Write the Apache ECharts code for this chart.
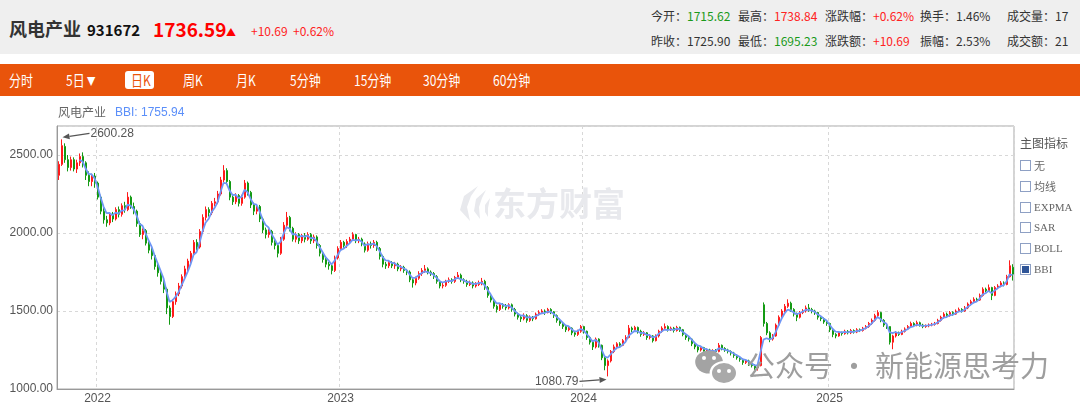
<!DOCTYPE html>
<html><head><meta charset="utf-8">
<script src="https://cdn.jsdelivr.net/npm/echarts@6/dist/echarts.min.js"></script>
<style>
html,body{margin:0;padding:0;background:#fff;}
#wrap{position:relative;width:1080px;height:410px;overflow:hidden;font-family:'Noto Sans CJK SC','Noto Sans',sans-serif;}
#chart{position:absolute;left:0;top:0;width:1080px;height:410px;}
.a{position:absolute;white-space:nowrap;line-height:1;}
#hdr{position:absolute;left:0;top:0;width:1080px;height:54px;background:#efefef;}
#tabs{position:absolute;left:0;top:64px;width:1080px;height:32px;background:#e9540b;}
.tab{position:absolute;top:0;height:32px;line-height:32px;color:#fff;font-size:15px;transform:scaleX(0.8);transform-origin:0 50%;white-space:nowrap;}
.lbl{color:#333;font-size:12px;}
.red{color:#f22;}
.grn{color:#1a9a1a;}
.cb{position:absolute;left:1020px;width:9px;height:9px;border:1px solid #8ea0c4;background:#fff;}
.cbl{position:absolute;left:1034px;font-size:11px;color:#666;line-height:1;font-family:'Liberation Serif','DejaVu Serif',serif;}
</style></head>
<body><div id="wrap">
<div id="chart"></div>
<div id="hdr"></div>
<span class="a" style="left:9px;top:19px;font-size:18px;font-weight:bold;color:#333;">风电产业</span>
<span class="a" style="left:87px;top:22px;font-size:15px;font-weight:bold;color:#111;">931672</span>
<span class="a" style="left:153px;top:19px;font-size:19px;font-weight:bold;color:#f00;">1736.59</span>
<span class="a" style="left:226px;top:27px;font-size:10px;color:#f00;">▲</span>
<span class="a red" style="left:251px;top:25px;font-size:12px;">+10.69</span>
<span class="a red" style="left:293px;top:25px;font-size:12px;">+0.62%</span>

<span class="a lbl" style="left:651px;top:10px;">今开：<span class="grn">1715.62</span></span>
<span class="a lbl" style="left:738px;top:10px;">最高：<span class="red">1738.84</span></span>
<span class="a lbl" style="left:825px;top:10px;">涨跌幅：<span class="red">+0.62%</span></span>
<span class="a lbl" style="left:920px;top:10px;">换手：1.46%</span>
<span class="a lbl" style="left:1007px;top:10px;">成交量：17</span>
<span class="a lbl" style="left:651px;top:35px;">昨收：1725.90</span>
<span class="a lbl" style="left:738px;top:35px;">最低：<span class="grn">1695.23</span></span>
<span class="a lbl" style="left:825px;top:35px;">涨跌额：<span class="red">+10.69</span></span>
<span class="a lbl" style="left:920px;top:35px;">振幅：2.53%</span>
<span class="a lbl" style="left:1007px;top:35px;">成交额：21</span>

<div id="tabs">
<span class="tab" style="left:9px;">分时</span>
<span class="tab" style="left:66px;">5日<span style="font-size:11px;"> ▼</span></span>
<div style="position:absolute;left:125px;top:7px;width:29px;height:18px;background:#fff;border-radius:3px;"></div>
<span class="tab" style="left:131px;color:#e9540b;">日K</span>
<span class="tab" style="left:183px;">周K</span>
<span class="tab" style="left:236px;">月K</span>
<span class="tab" style="left:290px;">5分钟</span>
<span class="tab" style="left:354px;">15分钟</span>
<span class="tab" style="left:423px;">30分钟</span>
<span class="tab" style="left:493px;">60分钟</span>
</div>

<span class="a" style="left:58px;top:106px;font-size:12px;color:#666;">风电产业</span>
<span class="a" style="left:115px;top:106px;font-size:12px;color:#5b8ff9;font-family:'Liberation Sans',Arial,sans-serif;">BBI: 1755.94</span>

<span class="a" style="left:1020px;top:137px;font-size:12px;color:#555;">主图指标</span>
<div class="cb" style="top:160px;"></div><span class="cbl" style="top:160px;font-family:'Noto Sans CJK SC';">无</span>
<div class="cb" style="top:181px;"></div><span class="cbl" style="top:181px;font-family:'Noto Sans CJK SC';">均线</span>
<div class="cb" style="top:202px;"></div><span class="cbl" style="top:202px;">EXPMA</span>
<div class="cb" style="top:222px;"></div><span class="cbl" style="top:222px;">SAR</span>
<div class="cb" style="top:243px;"></div><span class="cbl" style="top:243px;">BOLL</span>
<div class="cb" style="top:264px;"><div style="position:absolute;left:1px;top:1px;width:7px;height:7px;background:#2f5597;"></div></div><span class="cbl" style="top:264px;">BBI</span>
</div>
<script>
// ---- data (3-trading-day candles) ----
const years = ['2021','2022','2023','2024','2025'];
const candlesPerYear = [13, 81, 81, 82, 62];
const yearTicks = ['2022','2023','2024','2025'];
const yTickValues = [1000, 1500, 2000, 2500];
// [open, close, low, high]
const candles = [
[2370,2440,2340,2460],[2440,2560,2430,2600.28],[2555,2470,2450,2575],[2470,2420,2395,2500],[2420,2470,2400,2490],
[2470,2410,2395,2485],[2410,2450,2385,2470],[2450,2490,2430,2510],[2490,2450,2420,2517],[2450,2370,2340,2460],
[2370,2330,2300,2395],[2330,2365,2300,2380],[2365,2320,2290,2385],
[2320,2230,2215,2330],[2230,2140,2120,2245],[2140,2085,2060,2160],[2085,2065,2040,2110],[2065,2115,2050,2130],
[2115,2090,2070,2135],[2090,2150,2080,2165],[2150,2120,2100,2170],[2120,2175,2105,2190],[2175,2150,2130,2200],
[2150,2230,2140,2262],[2230,2170,2155,2240],[2170,2140,2120,2195],[2140,2060,2040,2150],[2060,1990,1975,2075],
[1990,2015,1960,2030],[2015,1935,1920,2025],[1935,1890,1870,1950],[1890,1855,1830,1910],[1855,1785,1765,1865],
[1785,1745,1720,1800],[1745,1690,1670,1760],[1690,1640,1615,1705],[1640,1520,1480,1650],[1520,1465,1412,1535],
[1465,1560,1455,1575],[1560,1610,1540,1625],[1610,1660,1595,1680],[1660,1720,1645,1735],[1720,1770,1700,1790],
[1770,1820,1755,1835],[1820,1870,1800,1885],[1870,1940,1855,1955],[1940,1910,1890,1960],[1910,2010,1900,2025],
[2010,2100,1995,2120],[2100,2150,2080,2170],[2150,2130,2105,2165],[2130,2190,2115,2205],[2190,2200,2170,2225],
[2200,2250,2185,2270],[2250,2340,2240,2360],[2340,2400,2325,2435],[2400,2330,2310,2415],[2330,2230,2210,2340],
[2230,2200,2180,2250],[2200,2240,2185,2255],[2240,2190,2170,2250],[2190,2230,2175,2245],[2230,2320,2220,2340],
[2320,2260,2240,2330],[2260,2180,2160,2270],[2180,2140,2115,2195],[2140,2170,2120,2185],[2170,2090,2070,2180],
[2090,2020,2000,2100],[2020,1990,1965,2035],[1990,2010,1970,2025],[2010,1940,1920,2020],[1940,1920,1895,1955],
[1920,1870,1844,1930],[1870,1960,1860,1975],[1960,2050,1950,2070],[2050,2100,2035,2135],[2100,2030,2010,2110],
[2030,1960,1945,2040],[1960,1990,1940,2005],[1990,1950,1930,2000],[1950,1985,1935,1995],[1985,1960,1940,2000],
[1960,1990,1950,2005],[1990,1950,1930,2000],[1950,1975,1935,1990],[1975,1920,1900,1985],[1920,1870,1850,1930],
[1870,1830,1810,1880],[1830,1800,1780,1845],[1800,1790,1765,1815],[1790,1760,1735,1800],[1760,1840,1750,1855],
[1840,1900,1830,1915],
[1900,1940,1885,1955],[1940,1920,1905,1950],[1920,1945,1905,1960],[1945,1960,1930,1975],[1960,1990,1950,2005],
[1990,1950,1935,1995],[1950,1960,1935,1975],[1960,1930,1915,1970],[1930,1890,1875,1940],[1890,1930,1880,1945],
[1930,1920,1900,1945],[1920,1940,1905,1955],[1940,1900,1885,1950],[1900,1850,1830,1910],[1850,1800,1780,1860],
[1800,1790,1770,1815],[1790,1810,1775,1825],[1810,1790,1775,1820],[1790,1800,1770,1815],[1800,1770,1755,1810],
[1770,1780,1755,1795],[1780,1760,1745,1790],[1760,1750,1730,1770],[1750,1700,1685,1760],[1700,1680,1650,1710],
[1680,1710,1665,1720],[1710,1740,1700,1755],[1740,1760,1725,1775],[1760,1770,1745,1795],[1770,1750,1735,1780],
[1750,1740,1725,1760],[1740,1720,1705,1750],[1720,1690,1675,1730],[1690,1660,1645,1700],[1660,1665,1645,1680],
[1665,1690,1655,1700],[1690,1700,1680,1715],[1700,1690,1675,1710],[1690,1715,1680,1725],[1715,1730,1705,1750],
[1730,1700,1685,1740],[1700,1690,1675,1710],[1690,1670,1655,1700],[1670,1680,1660,1695],[1680,1660,1645,1690],
[1660,1670,1650,1685],[1670,1680,1660,1695],[1680,1690,1665,1712],[1690,1650,1635,1700],[1650,1600,1585,1660],
[1600,1570,1555,1610],[1570,1530,1515,1580],[1530,1510,1490,1540],[1510,1540,1500,1550],[1540,1530,1515,1550],
[1530,1520,1505,1545],[1520,1540,1510,1550],[1540,1510,1495,1548],[1510,1480,1465,1520],[1480,1460,1445,1490],
[1460,1450,1430,1470],[1450,1470,1440,1485],[1470,1440,1425,1480],[1440,1460,1430,1472],[1460,1450,1435,1468],
[1450,1480,1445,1490],[1480,1490,1470,1505],[1490,1500,1480,1512],[1500,1490,1475,1510],[1490,1510,1485,1520],
[1510,1495,1480,1518],[1495,1470,1455,1500],[1470,1440,1425,1478],[1440,1420,1405,1450],[1420,1400,1385,1428],
[1400,1380,1365,1410],[1380,1390,1370,1400],[1390,1360,1345,1395],[1360,1350,1335,1370],[1350,1370,1340,1380],
[1370,1400,1360,1410],
[1400,1370,1355,1405],[1370,1330,1315,1375],[1330,1300,1285,1340],[1300,1270,1250,1310],[1270,1320,1260,1330],
[1320,1280,1265,1325],[1280,1200,1185,1285],[1200,1150,1120,1210],[1150,1180,1080.79,1190],[1180,1240,1170,1250],
[1240,1270,1230,1285],[1270,1290,1255,1300],[1290,1280,1265,1300],[1280,1310,1275,1320],[1310,1330,1300,1345],
[1330,1390,1325,1410],[1390,1380,1365,1400],[1380,1395,1370,1405],[1395,1370,1355,1400],[1370,1350,1335,1380],
[1350,1360,1340,1372],[1360,1330,1315,1365],[1330,1340,1318,1352],[1340,1310,1298,1345],[1310,1340,1305,1350],
[1340,1370,1330,1380],[1370,1390,1360,1402],[1390,1400,1380,1420],[1400,1380,1368,1408],[1380,1390,1372,1400],
[1390,1375,1362,1398],[1375,1395,1368,1405],[1395,1380,1366,1400],[1380,1350,1338,1385],[1350,1330,1315,1358],
[1330,1320,1305,1340],[1320,1290,1275,1325],[1290,1270,1255,1298],[1270,1250,1235,1278],[1250,1265,1240,1275],
[1265,1240,1228,1270],[1240,1250,1230,1260],[1250,1230,1218,1258],[1230,1245,1220,1255],[1245,1240,1228,1256],
[1240,1280,1235,1295],[1280,1260,1248,1285],[1260,1250,1238,1268],[1250,1240,1228,1258],[1240,1230,1215,1248],
[1230,1215,1200,1238],[1215,1200,1188,1222],[1200,1190,1175,1208],[1190,1170,1155,1195],[1170,1180,1160,1190],
[1180,1160,1148,1188],[1160,1150,1138,1168],[1150,1135,1122,1158],[1135,1150,1118,1160],[1150,1330,1145,1340],
[1540,1420,1400,1555],[1420,1360,1345,1430],[1360,1320,1300,1370],[1320,1340,1310,1352],[1340,1410,1335,1420],
[1410,1460,1400,1472],[1460,1500,1450,1512],[1500,1530,1490,1545],[1530,1550,1520,1575],[1550,1510,1495,1560],
[1510,1480,1465,1518],[1480,1460,1435,1490],[1460,1490,1452,1500],[1490,1500,1480,1512],[1500,1520,1490,1535],
[1520,1510,1495,1545],[1510,1500,1485,1520],[1500,1490,1475,1508],[1490,1460,1445,1495],[1460,1450,1435,1468],
[1450,1430,1418,1458],[1430,1420,1405,1440],
[1420,1380,1365,1425],[1380,1350,1332,1388],[1350,1340,1325,1358],[1340,1360,1335,1370],[1360,1355,1342,1368],
[1355,1370,1348,1380],[1370,1360,1350,1378],[1360,1375,1352,1385],[1375,1365,1355,1382],[1365,1380,1358,1390],
[1380,1375,1365,1388],[1375,1390,1368,1398],[1390,1400,1382,1410],[1400,1420,1392,1430],[1420,1440,1410,1452],
[1440,1470,1432,1482],[1470,1490,1460,1505],[1490,1440,1428,1495],[1440,1410,1398,1448],[1410,1400,1385,1418],
[1400,1300,1285,1402],[1300,1340,1255,1348],[1340,1360,1330,1370],[1360,1350,1340,1368],[1350,1370,1345,1380],
[1370,1385,1362,1395],[1385,1400,1378,1410],[1400,1420,1392,1432],[1420,1410,1400,1428],[1410,1425,1402,1438],
[1425,1410,1400,1432],[1410,1400,1390,1418],[1400,1405,1392,1414],[1405,1410,1396,1420],[1410,1415,1402,1424],
[1415,1420,1406,1430],[1420,1440,1414,1450],[1440,1460,1432,1470],[1460,1480,1452,1492],[1480,1470,1460,1490],
[1470,1490,1464,1500],[1490,1480,1470,1498],[1480,1500,1475,1510],[1500,1510,1492,1522],[1510,1500,1490,1518],
[1500,1520,1495,1532],[1520,1545,1512,1555],[1545,1560,1535,1572],[1560,1575,1550,1588],[1575,1570,1558,1585],
[1570,1600,1565,1612],[1600,1640,1592,1652],[1640,1630,1618,1650],[1630,1650,1622,1670],[1650,1600,1570,1655],
[1600,1650,1595,1660],[1650,1660,1640,1672],[1660,1680,1652,1692],[1680,1670,1658,1690],[1670,1720,1665,1732],
[1720,1790,1715,1825],[1780,1736.59,1695.23,1800]
];
// BBI periods (3/6/12/24 trading days expressed in 3-day candles)
const bbiPeriods = [1, 2, 4, 8];

// ---- build ----
const categories = [];
years.forEach((y, k) => { for (let n = 0; n < candlesPerYear[k]; n++) categories.push(y + '-' + n); });
const closes = candles.map(c => c[1]);
function ma(n, i) { if (i < n - 1) return null; let s = 0; for (let k = i - n + 1; k <= i; k++) s += closes[k]; return s / n; }
const maxP = Math.max(...bbiPeriods);
const bbi = closes.map((_, i) => i < maxP - 1 ? '-' : +(bbiPeriods.reduce((s, p) => s + ma(p, i), 0) / bbiPeriods.length).toFixed(2));

const chart = echarts.init(document.getElementById('chart'), null, { renderer: 'canvas' });
const isYearStart = (idx, val) => { const p = String(val).split('-'); return p[1] === '0' && yearTicks.includes(p[0]); };
const axisFont = "'Liberation Sans', Arial, sans-serif";
chart.setOption({
  animation: false,
  grid: { left: 57, right: 66, top: 126, bottom: 21, show: true, borderColor: '#a8a8a8', borderWidth: 1 },
  xAxis: {
    type: 'category', data: categories, boundaryGap: true,
    axisLine: { show: true, lineStyle: { color: '#999' } },
    axisTick: { show: false },
    axisLabel: { interval: isYearStart, formatter: v => v.split('-')[0], color: '#555', fontSize: 12, fontFamily: axisFont, margin: 4 },
    splitLine: { show: true, interval: isYearStart, lineStyle: { color: '#d8d8d8', type: [3, 3] } }
  },
  yAxis: {
    type: 'value', min: 1000, max: 2686, interval: 500, scale: false,
    axisLine: { show: true, lineStyle: { color: '#999' } },
    axisTick: { show: false },
    axisLabel: { formatter: v => yTickValues.includes(v) ? v.toFixed(2) : '', showMaxLabel: false, color: '#555', fontSize: 12, fontFamily: axisFont, margin: 4 },
    splitLine: { show: true, lineStyle: { color: '#d8d8d8', type: [3, 3] } }
  },
  series: [
    { type: 'candlestick', data: candles, barWidth: '50%',
      itemStyle: { color: '#ff1a1a', color0: '#139a13', borderColor: '#ff1a1a', borderColor0: '#139a13', borderWidth: 1 } },
    { type: 'line', data: bbi, showSymbol: false, symbol: 'none', smooth: false,
      lineStyle: { color: '#6f96f5', width: 1.8 }, z: 5 }
  ]
});

// annotations for highest high and lowest low
let hiIdx = 0, loIdx = 0;
candles.forEach((c, i) => { if (c[3] > candles[hiIdx][3]) hiIdx = i; if (c[2] < candles[loIdx][2]) loIdx = i; });
const hiVal = candles[hiIdx][3], loVal = candles[loIdx][2];
const ph = chart.convertToPixel({ gridIndex: 0 }, [hiIdx, hiVal]);
const pl = chart.convertToPixel({ gridIndex: 0 }, [loIdx, loVal]);
function arrow(x1, y1, x2, y2) {
  const a = Math.atan2(y2 - y1, x2 - x1), L = 7, W = 3;
  const bx = x2 - L * Math.cos(a), by = y2 - L * Math.sin(a);
  return [
    { type: 'line', z: 50, shape: { x1, y1, x2: bx, y2: by }, style: { stroke: '#555', lineWidth: 1.2 } },
    { type: 'polygon', z: 50, shape: { points: [[x2, y2], [bx + W * Math.sin(a), by - W * Math.cos(a)], [bx - W * Math.sin(a), by + W * Math.cos(a)]] }, style: { fill: '#555' } }
  ];
}
const g = [];
g.push(...arrow(ph[0] + 28, ph[1] - 6, ph[0] + 1, ph[1] - 2));
g.push({ type: 'text', z: 50, x: ph[0] + 29, y: ph[1] - 6, style: { text: hiVal.toFixed(2), fill: '#555', font: "12px 'Liberation Sans', Arial", textVerticalAlign: 'middle', textAlign: 'left' } });
g.push(...arrow(pl[0] - 28, pl[1] + 5, pl[0] - 1, pl[1] + 3));
g.push({ type: 'text', z: 50, x: pl[0] - 29, y: pl[1] + 5, style: { text: loVal.toFixed(2), fill: '#555', font: "12px 'Liberation Sans', Arial", textVerticalAlign: 'middle', textAlign: 'right' } });
// watermark: 东方财富
g.push({ type: 'polygon', z: 0, shape: { points: [[478,186],[464,196],[460,210],[470,221],[467,207],[471,196]] }, style: { fill: '#e8e9ed' } });
g.push({ type: 'polygon', z: 0, shape: { points: [[486,190],[476,199],[474,211],[480,219],[479,207],[482,198]] }, style: { fill: '#e8e9ed' } });
g.push({ type: 'polygon', z: 0, shape: { points: [[490,198],[485,205],[485,212],[488,217],[488,208]] }, style: { fill: '#e8e9ed' } });
g.push({ type: 'text', z: 0, x: 493, y: 203, style: { text: '东方财富', fill: '#e8e9ed', font: "bold 33px 'Noto Sans CJK SC'", textVerticalAlign: 'middle' } });
// watermark: WeChat
g.push({ type: 'circle', z: 100, x: 709, y: 362, scaleX: 1.2, shape: { cx: 0, cy: 0, r: 11.5 }, style: { fill: '#a3a3a3' } });
g.push({ type: 'circle', z: 101, shape: { cx: 704, cy: 358, r: 2 }, style: { fill: '#fff' } });
g.push({ type: 'circle', z: 101, shape: { cx: 714, cy: 358, r: 2 }, style: { fill: '#fff' } });
g.push({ type: 'circle', z: 102, x: 724, y: 373, scaleX: 1.2, shape: { cx: 0, cy: 0, r: 11 }, style: { fill: '#a9a9a9', stroke: '#fff', lineWidth: 2 } });
g.push({ type: 'circle', z: 103, shape: { cx: 719, cy: 371, r: 2 }, style: { fill: '#fff' } });
g.push({ type: 'circle', z: 103, shape: { cx: 729, cy: 371, r: 2 }, style: { fill: '#fff' } });
g.push({ type: 'text', z: 100, x: 746, y: 366, style: { text: '公众号 · 新能源思考力', fill: '#9e9e9e', font: "29px 'Noto Sans CJK SC'", textVerticalAlign: 'middle' } });
chart.setOption({ graphic: g });
</script>
</body></html>
